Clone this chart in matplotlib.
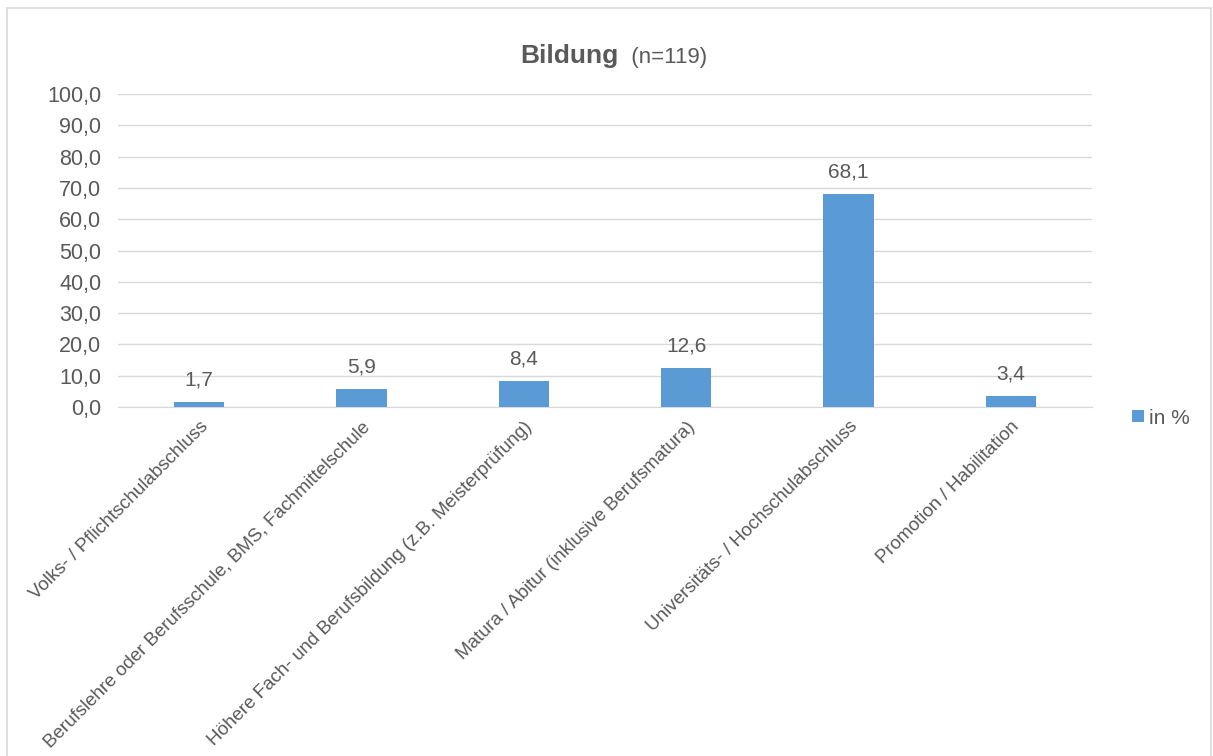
import matplotlib.pyplot as plt
from matplotlib.patches import Rectangle

plt.rcParams['font.family'] = ['Liberation Sans', 'DejaVu Sans']

categories = [
    "Volks- / Pflichtschulabschluss",
    "Berufslehre oder Berufsschule, BMS, Fachmittelschule",
    "Höhere Fach- und Berufsbildung (z.B. Meisterprüfung)",
    "Matura / Abitur (inklusive Berufsmatura)",
    "Universitäts- / Hochschulabschluss",
    "Promotion / Habilitation",
]
values = [1.7, 5.9, 8.4, 12.6, 68.1, 3.4]
yticks = [0, 10, 20, 30, 40, 50, 60, 70, 80, 90, 100]

bar_color = "#5b9bd5"
text_color = "#595959"
grid_color = "#d9d9d9"
fs = 15

fig = plt.figure(figsize=(12.13, 7.56), dpi=100)
ax = fig.add_axes([0.0973, 0.4616, 0.8030, 0.4141])

x = range(len(categories))
bars = ax.bar(x, values, width=0.31, color=bar_color, zorder=3, label="in %")

# Werte über den Balken
for b, v in zip(bars, values):
    ax.annotate(f"{v:.1f}".replace(".", ","),
                (b.get_x() + b.get_width() / 2, b.get_height()),
                xytext=(0, 9), textcoords="offset points",
                ha="center", va="bottom", fontsize=fs, color=text_color)

ax.set_xlim(-0.5, len(categories) - 0.5)
ax.set_ylim(0, 100)
ax.set_yticks(yticks)
ax.set_yticklabels([f"{t:.1f}".replace(".", ",") for t in yticks])
ax.set_xticks(list(x))
ax.set_xticklabels(categories, rotation=45, ha="right", rotation_mode="anchor")

ax.tick_params(axis="both", length=0, labelcolor=text_color)
ax.tick_params(axis="y", pad=12, labelsize=15.5)
ax.tick_params(axis="x", pad=8, labelsize=13.5)
ax.yaxis.grid(True, color=grid_color, linewidth=1, zorder=0)
for s in ["top", "right", "left"]:
    ax.spines[s].set_visible(False)
ax.spines["bottom"].set_color(grid_color)

# Titel: fett + Stichprobengröße
fig.text(0.51, 0.917, "Bildung", fontsize=19, fontweight="bold",
         color=text_color, ha="right", va="baseline")
fig.text(0.51, 0.917, "  (n=119)", fontsize=16, color=text_color,
         ha="left", va="baseline")

leg = fig.legend(loc="center left", bbox_to_anchor=(0.918, 0.447),
                 frameon=False, fontsize=fs, handlelength=0.55,
                 handleheight=0.55, handletextpad=0.25)
for t in leg.get_texts():
    t.set_color(text_color)

# Rahmen um das Diagramm
fig.patches.append(Rectangle((0.006, -0.01), 0.992, 1.0, transform=fig.transFigure,
                             fill=False, edgecolor=grid_color, linewidth=1.2))

fig.savefig("out.png", dpi=100, facecolor="white")
